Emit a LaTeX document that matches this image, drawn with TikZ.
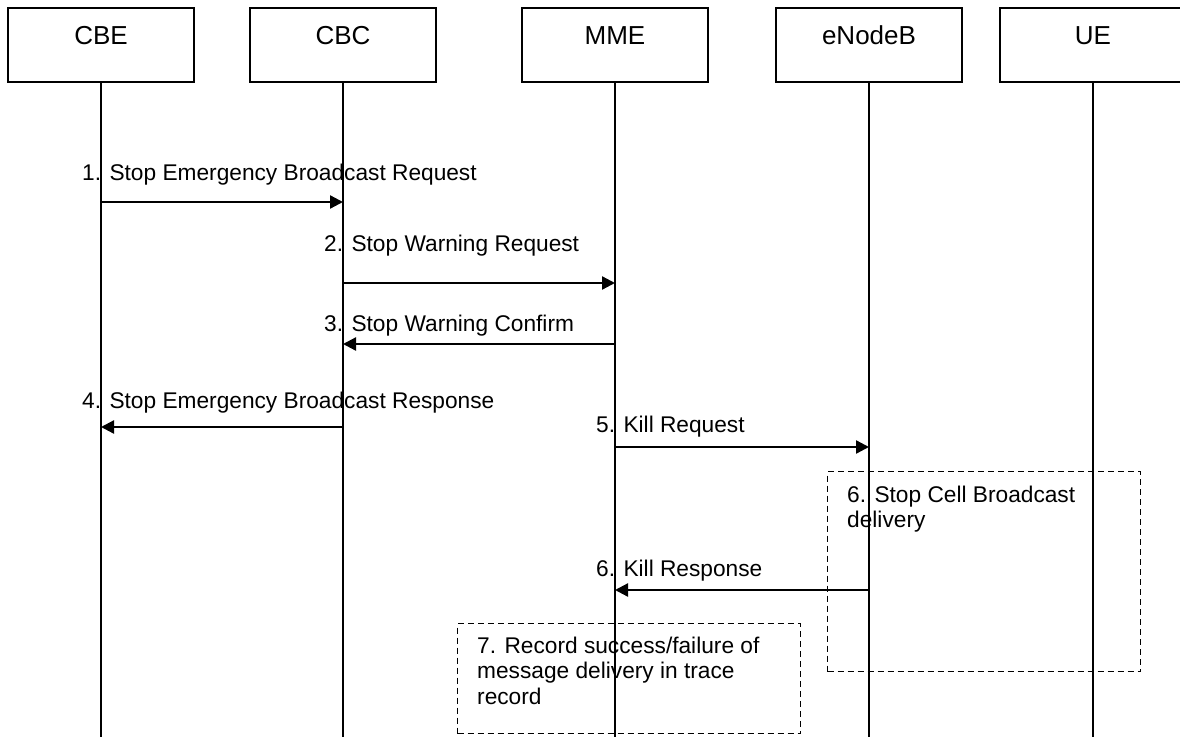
\documentclass[tikz,border=0pt]{standalone}
\usepackage{fontspec}
\setmainfont{Liberation Sans}
\usetikzlibrary{arrows.meta}

\begin{document}
\begin{tikzpicture}[x=1pt,y=-1pt,>={Triangle[length=13pt,width=13pt]},
	entity/.style={draw,line width=1.6pt,minimum width=186pt,minimum height=74pt,inner sep=0pt,
		text height=18.6pt,text depth=20pt,font=\fontsize{26}{30}\selectfont},
	life/.style={line width=1.5pt},
	msg/.style={->,line width=2.3pt},
	msglabel/.style={anchor=base west,inner sep=0pt,font=\fontsize{22.7}{25.5}\selectfont},
	notebox/.style={draw,dash pattern=on 6pt off 4pt,line width=1.4pt,inner sep=0pt,anchor=north west},
	notetext/.style={anchor=north west,inner sep=0pt,align=left,font=\fontsize{22.7}{25.5}\selectfont}]
	\useasboundingbox (0,0) rectangle (1180,736);
	\foreach \name/\x/\txt in {cbe/101/CBE,cbc/343/CBC,mme/615/MME,enb/869/eNodeB,ue/1093/UE}{
		\node[entity] (\name) at (\x,45) {\txt};
		\coordinate (\name-end) at (\x,745);
		\draw[life] (\name.south) -- (\name-end);
	}
	\foreach \n/\from/\to/\y/\lx/\ly/\txt in {
		1/cbe/cbc/202/82/180/{1. Stop Emergency Broadcast Request},
		2/cbc/mme/283/324/251/{2. Stop Warning Request},
		3/mme/cbc/344/324/331/{3. Stop Warning Confirm},
		4/cbc/cbe/427/82/408/{4. Stop Emergency Broadcast Response},
		5/mme/enb/447/596/432/{5. Kill Request},
		6/enb/mme/590/596/576/{6. Kill Response}}{
		\coordinate (m\n-a) at (\from |- 0,\y);
		\coordinate (m\n-b) at (\to |- 0,\y);
		\draw[msg] (m\n-a) -- (m\n-b);
		\node[msglabel] (t\n) at (\lx,\ly) {\txt};
	}
	\node[notebox,minimum width=313pt,minimum height=200pt] (stopcell) at (827,471) {};
	\node[notetext] (stopcelltxt) at (847,485.5) {6. Stop Cell Broadcast\\delivery};
	\node[notebox,minimum width=343pt,minimum height=110pt] (record) at (457,623) {};
	\node[notetext] (recordtxt) at (477,636.5) {7. Record success/failure of\\message delivery in trace\\record};
\end{tikzpicture}
\end{document}
